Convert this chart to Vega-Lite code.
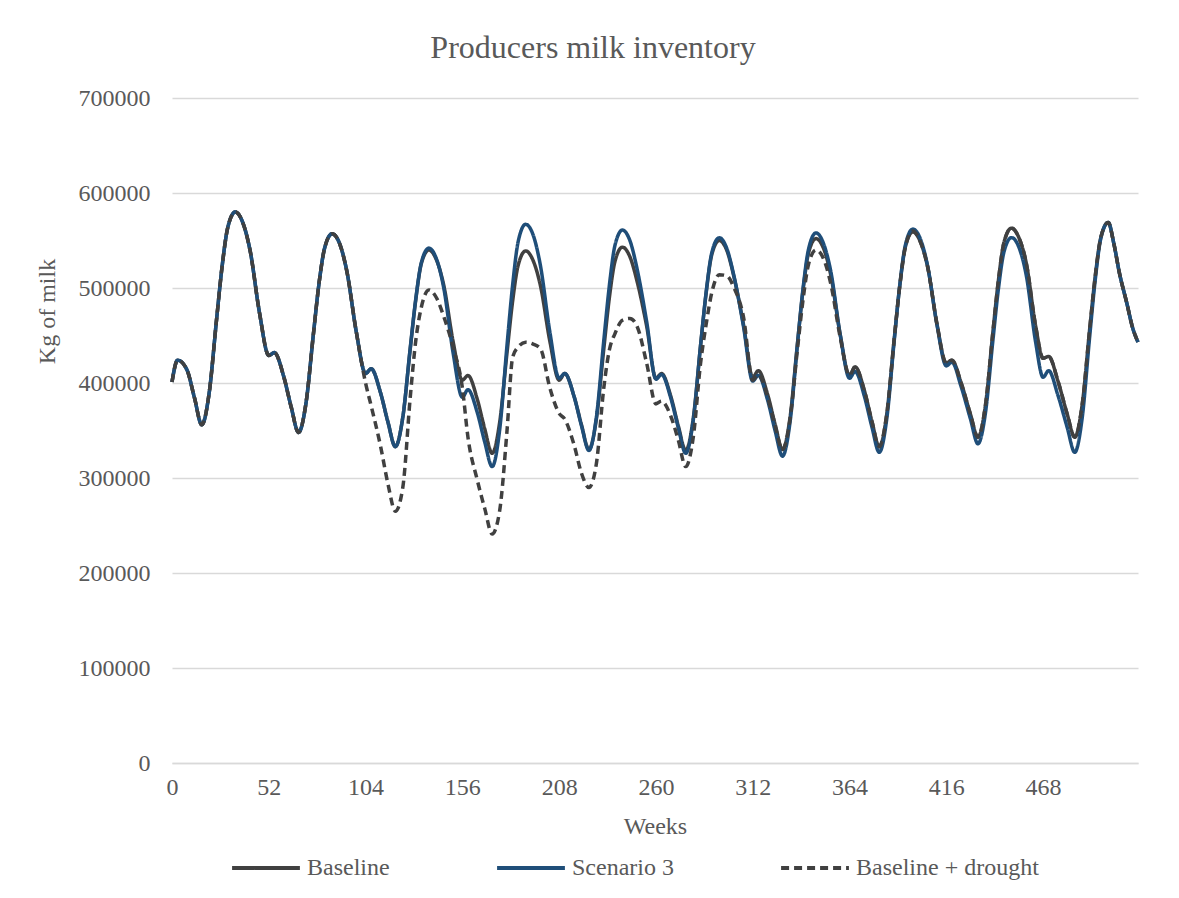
{
  "$schema": "https://vega.github.io/schema/vega-lite/v6.json",
  "width": 966,
  "height": 665,
  "autosize": "none",
  "padding": {"left": 172, "top": 98, "right": 41, "bottom": 135},
  "background": "white",
  "title": {"text": "Producers milk inventory", "font": "Liberation Serif", "fontSize": 32, "fontWeight": "normal", "color": "#595959", "anchor": "middle", "dx": -62, "dy": 45, "baseline": "alphabetic", "offset": 41},
  "data": {"values": [
    {"w":0,"Baseline":401000,"Scenario 3":401000,"Baseline + drought":401000},
    {"w":3,"Baseline":424000,"Scenario 3":424000,"Baseline + drought":424000},
    {"w":8,"Baseline":414000,"Scenario 3":414000,"Baseline + drought":414000},
    {"w":12,"Baseline":385000,"Scenario 3":385000,"Baseline + drought":385000},
    {"w":16,"Baseline":356000,"Scenario 3":356000,"Baseline + drought":356000},
    {"w":20,"Baseline":390000,"Scenario 3":390000,"Baseline + drought":390000},
    {"w":24,"Baseline":468000,"Scenario 3":468000,"Baseline + drought":468000},
    {"w":27,"Baseline":524000,"Scenario 3":524000,"Baseline + drought":524000},
    {"w":30,"Baseline":564000,"Scenario 3":564000,"Baseline + drought":564000},
    {"w":34,"Baseline":580000,"Scenario 3":580000,"Baseline + drought":580000},
    {"w":38,"Baseline":569000,"Scenario 3":569000,"Baseline + drought":569000},
    {"w":42,"Baseline":539000,"Scenario 3":539000,"Baseline + drought":539000},
    {"w":47,"Baseline":474000,"Scenario 3":474000,"Baseline + drought":474000},
    {"w":52,"Baseline":429000,"Scenario 3":429000,"Baseline + drought":429000},
    {"w":55,"Baseline":432000,"Scenario 3":432000,"Baseline + drought":432000},
    {"w":60,"Baseline":407000,"Scenario 3":407000,"Baseline + drought":407000},
    {"w":64,"Baseline":375000,"Scenario 3":375000,"Baseline + drought":375000},
    {"w":68,"Baseline":348000,"Scenario 3":348000,"Baseline + drought":348000},
    {"w":72,"Baseline":379000,"Scenario 3":379000,"Baseline + drought":379000},
    {"w":76,"Baseline":452000,"Scenario 3":452000,"Baseline + drought":452000},
    {"w":79,"Baseline":505000,"Scenario 3":505000,"Baseline + drought":505000},
    {"w":82,"Baseline":542000,"Scenario 3":542000,"Baseline + drought":542000},
    {"w":86,"Baseline":557000,"Scenario 3":557000,"Baseline + drought":557000},
    {"w":90,"Baseline":547000,"Scenario 3":547000,"Baseline + drought":547000},
    {"w":94,"Baseline":517000,"Scenario 3":517000,"Baseline + drought":517000},
    {"w":99,"Baseline":454000,"Scenario 3":454000,"Baseline + drought":454000},
    {"w":104,"Baseline":410000,"Scenario 3":410000,"Baseline + drought":400000},
    {"w":107,"Baseline":415000,"Scenario 3":415000,"Baseline + drought":376000},
    {"w":112,"Baseline":390000,"Scenario 3":390000,"Baseline + drought":334000},
    {"w":116,"Baseline":359000,"Scenario 3":359000,"Baseline + drought":294000},
    {"w":120,"Baseline":333000,"Scenario 3":333000,"Baseline + drought":265000},
    {"w":124,"Baseline":364000,"Scenario 3":364000,"Baseline + drought":290000},
    {"w":128,"Baseline":436000,"Scenario 3":437000,"Baseline + drought":385000},
    {"w":131,"Baseline":488000,"Scenario 3":489000,"Baseline + drought":445000},
    {"w":134,"Baseline":526000,"Scenario 3":527000,"Baseline + drought":480000},
    {"w":138,"Baseline":540000,"Scenario 3":542000,"Baseline + drought":498000},
    {"w":142,"Baseline":530000,"Scenario 3":531000,"Baseline + drought":490000},
    {"w":146,"Baseline":503000,"Scenario 3":500000,"Baseline + drought":470000},
    {"w":151,"Baseline":444000,"Scenario 3":432000,"Baseline + drought":438000},
    {"w":156,"Baseline":403000,"Scenario 3":385000,"Baseline + drought":395000},
    {"w":159,"Baseline":408000,"Scenario 3":393000,"Baseline + drought":343000},
    {"w":164,"Baseline":383000,"Scenario 3":369000,"Baseline + drought":298000},
    {"w":168,"Baseline":352000,"Scenario 3":338000,"Baseline + drought":268000},
    {"w":172,"Baseline":326000,"Scenario 3":312000,"Baseline + drought":241000},
    {"w":176,"Baseline":358000,"Scenario 3":350000,"Baseline + drought":265000},
    {"w":180,"Baseline":432000,"Scenario 3":440000,"Baseline + drought":350000},
    {"w":183,"Baseline":486000,"Scenario 3":503000,"Baseline + drought":427000},
    {"w":186,"Baseline":524000,"Scenario 3":549000,"Baseline + drought":438000},
    {"w":190,"Baseline":539000,"Scenario 3":567000,"Baseline + drought":443000},
    {"w":194,"Baseline":529000,"Scenario 3":556000,"Baseline + drought":441000},
    {"w":198,"Baseline":502000,"Scenario 3":523000,"Baseline + drought":436000},
    {"w":203,"Baseline":444000,"Scenario 3":454000,"Baseline + drought":395000},
    {"w":208,"Baseline":403000,"Scenario 3":405000,"Baseline + drought":368000},
    {"w":211,"Baseline":410000,"Scenario 3":410000,"Baseline + drought":362000},
    {"w":216,"Baseline":386000,"Scenario 3":386000,"Baseline + drought":335000},
    {"w":220,"Baseline":356000,"Scenario 3":355000,"Baseline + drought":305000},
    {"w":224,"Baseline":330000,"Scenario 3":329000,"Baseline + drought":290000},
    {"w":228,"Baseline":362000,"Scenario 3":364000,"Baseline + drought":315000},
    {"w":232,"Baseline":436000,"Scenario 3":445000,"Baseline + drought":395000},
    {"w":235,"Baseline":490000,"Scenario 3":503000,"Baseline + drought":435000},
    {"w":238,"Baseline":528000,"Scenario 3":545000,"Baseline + drought":452000},
    {"w":242,"Baseline":543000,"Scenario 3":561000,"Baseline + drought":466000},
    {"w":246,"Baseline":533000,"Scenario 3":550000,"Baseline + drought":468000},
    {"w":250,"Baseline":506000,"Scenario 3":519000,"Baseline + drought":459000},
    {"w":255,"Baseline":460000,"Scenario 3":465000,"Baseline + drought":421000},
    {"w":260,"Baseline":405000,"Scenario 3":404000,"Baseline + drought":378000},
    {"w":263,"Baseline":410000,"Scenario 3":409000,"Baseline + drought":381000},
    {"w":268,"Baseline":386000,"Scenario 3":384000,"Baseline + drought":365000},
    {"w":272,"Baseline":355000,"Scenario 3":353000,"Baseline + drought":340000},
    {"w":276,"Baseline":329000,"Scenario 3":326000,"Baseline + drought":312000},
    {"w":280,"Baseline":362000,"Scenario 3":360000,"Baseline + drought":342000},
    {"w":284,"Baseline":440000,"Scenario 3":440000,"Baseline + drought":421000},
    {"w":287,"Baseline":495000,"Scenario 3":496000,"Baseline + drought":462000},
    {"w":290,"Baseline":535000,"Scenario 3":537000,"Baseline + drought":495000},
    {"w":294,"Baseline":550000,"Scenario 3":553000,"Baseline + drought":514000},
    {"w":298,"Baseline":540000,"Scenario 3":542000,"Baseline + drought":513000},
    {"w":302,"Baseline":511000,"Scenario 3":512000,"Baseline + drought":500000},
    {"w":307,"Baseline":462000,"Scenario 3":460000,"Baseline + drought":470000},
    {"w":312,"Baseline":406000,"Scenario 3":402000,"Baseline + drought":403000},
    {"w":315,"Baseline":413000,"Scenario 3":408000,"Baseline + drought":409000},
    {"w":320,"Baseline":388000,"Scenario 3":382000,"Baseline + drought":385000},
    {"w":324,"Baseline":357000,"Scenario 3":350000,"Baseline + drought":355000},
    {"w":328,"Baseline":330000,"Scenario 3":323000,"Baseline + drought":330000},
    {"w":332,"Baseline":363000,"Scenario 3":358000,"Baseline + drought":361000},
    {"w":336,"Baseline":441000,"Scenario 3":440000,"Baseline + drought":435000},
    {"w":339,"Baseline":497000,"Scenario 3":499000,"Baseline + drought":487000},
    {"w":342,"Baseline":537000,"Scenario 3":541000,"Baseline + drought":525000},
    {"w":346,"Baseline":552000,"Scenario 3":558000,"Baseline + drought":540000},
    {"w":350,"Baseline":542000,"Scenario 3":547000,"Baseline + drought":531000},
    {"w":354,"Baseline":513000,"Scenario 3":517000,"Baseline + drought":504000},
    {"w":359,"Baseline":451000,"Scenario 3":451000,"Baseline + drought":448000},
    {"w":364,"Baseline":408000,"Scenario 3":405000,"Baseline + drought":408000},
    {"w":367,"Baseline":417000,"Scenario 3":412000,"Baseline + drought":417000},
    {"w":372,"Baseline":392000,"Scenario 3":386000,"Baseline + drought":392000},
    {"w":376,"Baseline":360000,"Scenario 3":354000,"Baseline + drought":360000},
    {"w":380,"Baseline":333000,"Scenario 3":327000,"Baseline + drought":333000},
    {"w":384,"Baseline":367000,"Scenario 3":362000,"Baseline + drought":367000},
    {"w":388,"Baseline":446000,"Scenario 3":444000,"Baseline + drought":446000},
    {"w":391,"Baseline":502000,"Scenario 3":503000,"Baseline + drought":502000},
    {"w":394,"Baseline":543000,"Scenario 3":545000,"Baseline + drought":543000},
    {"w":398,"Baseline":559000,"Scenario 3":562000,"Baseline + drought":560000},
    {"w":402,"Baseline":549000,"Scenario 3":552000,"Baseline + drought":549000},
    {"w":406,"Baseline":522000,"Scenario 3":523000,"Baseline + drought":522000},
    {"w":411,"Baseline":462000,"Scenario 3":461000,"Baseline + drought":462000},
    {"w":416,"Baseline":421000,"Scenario 3":418000,"Baseline + drought":421000},
    {"w":419,"Baseline":424000,"Scenario 3":422000,"Baseline + drought":424000},
    {"w":424,"Baseline":400000,"Scenario 3":396000,"Baseline + drought":400000},
    {"w":429,"Baseline":367000,"Scenario 3":362000,"Baseline + drought":367000},
    {"w":433,"Baseline":343000,"Scenario 3":336000,"Baseline + drought":343000},
    {"w":437,"Baseline":376000,"Scenario 3":368000,"Baseline + drought":376000},
    {"w":441,"Baseline":453000,"Scenario 3":444000,"Baseline + drought":453000},
    {"w":444,"Baseline":508000,"Scenario 3":499000,"Baseline + drought":508000},
    {"w":447,"Baseline":548000,"Scenario 3":538000,"Baseline + drought":548000},
    {"w":451,"Baseline":563000,"Scenario 3":553000,"Baseline + drought":563000},
    {"w":455,"Baseline":553000,"Scenario 3":543000,"Baseline + drought":553000},
    {"w":459,"Baseline":526000,"Scenario 3":513000,"Baseline + drought":526000},
    {"w":464,"Baseline":460000,"Scenario 3":443000,"Baseline + drought":460000},
    {"w":468,"Baseline":426000,"Scenario 3":406000,"Baseline + drought":426000},
    {"w":471,"Baseline":428000,"Scenario 3":413000,"Baseline + drought":428000},
    {"w":476,"Baseline":402000,"Scenario 3":387000,"Baseline + drought":402000},
    {"w":481,"Baseline":367000,"Scenario 3":353000,"Baseline + drought":367000},
    {"w":485,"Baseline":343000,"Scenario 3":327000,"Baseline + drought":343000},
    {"w":489,"Baseline":377000,"Scenario 3":363000,"Baseline + drought":377000},
    {"w":493,"Baseline":456000,"Scenario 3":448000,"Baseline + drought":456000},
    {"w":496,"Baseline":512000,"Scenario 3":508000,"Baseline + drought":512000},
    {"w":499,"Baseline":553000,"Scenario 3":552000,"Baseline + drought":553000},
    {"w":503,"Baseline":569000,"Scenario 3":569000,"Baseline + drought":569000},
    {"w":506,"Baseline":547000,"Scenario 3":547000,"Baseline + drought":547000},
    {"w":509,"Baseline":516000,"Scenario 3":516000,"Baseline + drought":516000},
    {"w":513,"Baseline":484000,"Scenario 3":484000,"Baseline + drought":484000},
    {"w":516,"Baseline":459000,"Scenario 3":459000,"Baseline + drought":459000},
    {"w":519,"Baseline":443000,"Scenario 3":443000,"Baseline + drought":443000}
  ]},
  "transform": [{"fold": ["Baseline", "Scenario 3", "Baseline + drought"], "as": ["series", "value"]}],
  "encoding": {
    "x": {"field": "w", "type": "quantitative", "scale": {"domain": [0, 519], "nice": false, "zero": false},
      "axis": {"values": [0, 52, 104, 156, 208, 260, 312, 364, 416, 468], "grid": false, "domain": true, "domainColor": "#d9d9d9", "domainWidth": 1.5, "ticks": false,
        "labelFont": "Liberation Serif", "labelFontSize": 24, "labelColor": "#595959", "labelPadding": 12, "labelFlush": false, "labelOverlap": false,
        "title": "Weeks", "titleFont": "Liberation Serif", "titleFontSize": 24, "titleFontWeight": "normal", "titleColor": "#595959", "titleY": 70, "titleBaseline": "alphabetic"}},
    "y": {"field": "value", "type": "quantitative", "scale": {"domain": [0, 700000], "nice": false},
      "axis": {"values": [0, 100000, 200000, 300000, 400000, 500000, 600000, 700000], "grid": true, "gridColor": "#d9d9d9", "gridWidth": 1.5, "domain": false, "ticks": false, "format": "d",
        "labelFont": "Liberation Serif", "labelFontSize": 24, "labelColor": "#595959", "labelPadding": 22,
        "title": "Kg of milk", "titleFont": "Liberation Serif", "titleFontSize": 24, "titleFontWeight": "normal", "titleColor": "#595959", "titleAngle": -90, "titleX": -118, "titleY": 213, "titleBaseline": "alphabetic", "titleAlign": "center"}},
    "color": {"field": "series", "type": "nominal",
      "scale": {"domain": ["Baseline", "Scenario 3", "Baseline + drought"], "range": ["#404040", "#1f4e79", "#404040"]},
      "legend": {"title": null, "orient": "none", "legendX": 58, "legendY": 734, "direction": "horizontal", "columns": 3, "padding": 0, "symbolType": "stroke", "symbolSize": 4600, "symbolStrokeWidth": 4, "labelFont": "Liberation Serif", "labelFontSize": 24, "labelColor": "#595959", "labelOffset": 5, "columnPadding": 99, "labelLimit": 400}},
    "strokeDash": {"field": "series", "type": "nominal",
      "scale": {"domain": ["Baseline", "Scenario 3", "Baseline + drought"], "range": [[1, 0], [1, 0], [8, 5]]},
      "legend": {"title": null, "orient": "none", "legendX": 58, "legendY": 734, "direction": "horizontal", "columns": 3, "padding": 0, "symbolType": "stroke", "symbolSize": 4600, "symbolStrokeWidth": 4, "labelFont": "Liberation Serif", "labelFontSize": 24, "labelColor": "#595959", "labelOffset": 5, "columnPadding": 99, "labelLimit": 400}}
  },
  "layer": [
    {"transform": [{"filter": "datum.series === 'Baseline'"}], "mark": {"type": "line", "interpolate": "monotone", "strokeWidth": 3.5}},
    {"transform": [{"filter": "datum.series === 'Scenario 3'"}], "mark": {"type": "line", "interpolate": "monotone", "strokeWidth": 3.5}},
    {"transform": [{"filter": "datum.series === 'Baseline + drought'"}], "mark": {"type": "line", "interpolate": "monotone", "strokeWidth": 3.5}}
  ],
  "config": {"view": {"stroke": null}}
}
